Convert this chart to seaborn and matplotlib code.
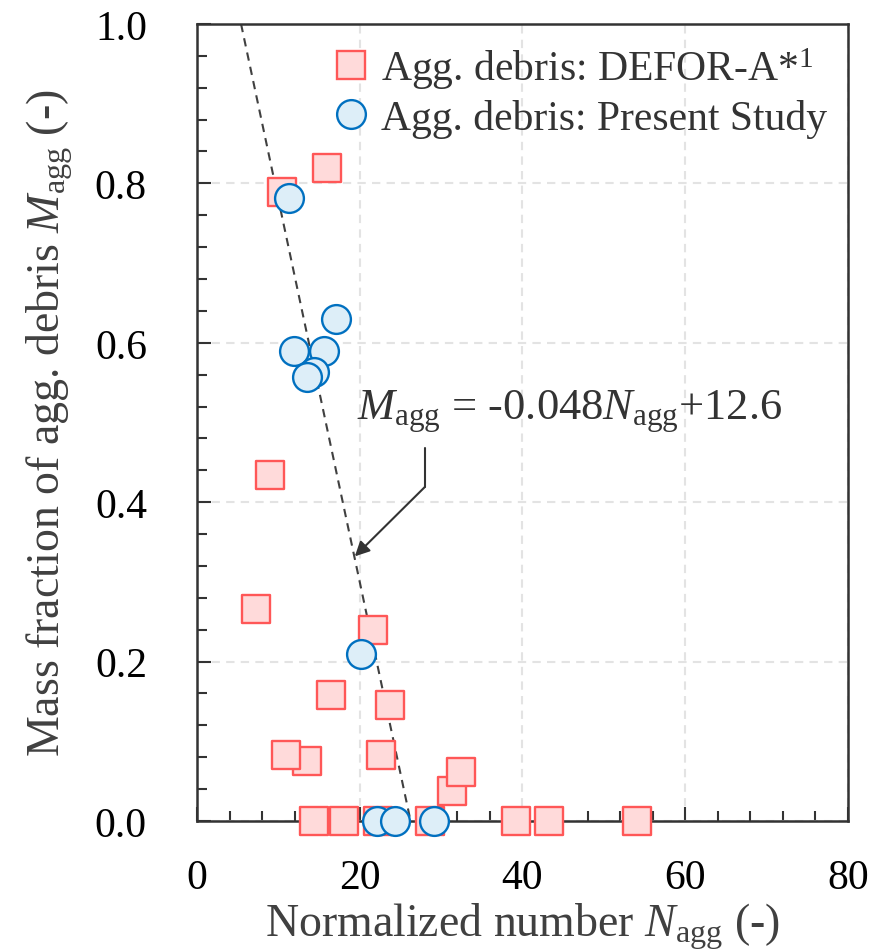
import matplotlib
matplotlib.use("Agg")
import matplotlib.pyplot as plt
import seaborn as sns
import pandas as pd
import numpy as np
from matplotlib.ticker import MultipleLocator
from matplotlib.lines import Line2D

# ---- data ----
defor_x = [10.4, 16.0, 9.0, 7.2, 21.6, 16.5, 23.7, 13.5, 10.9, 22.6, 31.4, 32.4,
           14.4, 18.1, 22.2, 28.6, 39.2, 43.2, 54.1]
defor_y = [0.789, 0.819, 0.434, 0.266, 0.240, 0.158, 0.146, 0.075, 0.083, 0.083, 0.038, 0.061,
           0.0, 0.0, 0.0, 0.0, 0.0, 0.0, 0.0]
present_x = [11.3, 17.1, 11.9, 15.6, 14.4, 13.5, 20.1, 22.1, 24.3, 29.1]
present_y = [0.782, 0.630, 0.590, 0.590, 0.563, 0.557, 0.209, 0.0, 0.0, 0.0]
fit_slope = -0.048
fit_intercept = 1.26
label_defor = "Agg. debris: DEFOR-A*$^{1}$"
label_present = "Agg. debris: Present Study"
xlabel = "Normalized number $N_\\mathrm{agg}$ (-)"
ylabel = "Mass fraction of agg. debris $M_\\mathrm{agg}$ (-)"
eq_text = "$M_\\mathrm{agg}$ = -0.048$N_\\mathrm{agg}$+12.6"

sns.set_theme(style="white")
plt.rcParams['font.family'] = ['Liberation Serif', 'DejaVu Serif']
plt.rcParams['mathtext.fontset'] = 'custom'
plt.rcParams['mathtext.rm'] = 'Liberation Serif'
plt.rcParams['mathtext.it'] = 'Liberation Serif:italic'
plt.rcParams['mathtext.bf'] = 'Liberation Serif:bold'

FS = 30
FSL = 33
fig = plt.figure(figsize=(8.75, 9.53), dpi=100)
ax = fig.add_axes([0.2251, 0.1375, 0.9691 - 0.2251, 0.9738 - 0.1375])

df_d = pd.DataFrame({"x": defor_x, "y": defor_y})
df_p = pd.DataFrame({"x": present_x, "y": present_y})

sq_face, sq_edge = "#FFDADA", "#FF5757"
ci_face, ci_edge = "#DDEEF8", "#0070C0"

# regression line
y_end = [1.0, 0.0]
x_end = [(yy - fit_intercept) / fit_slope for yy in y_end]
ax.plot(x_end, y_end, color="#404040", lw=1.5, ls=(0, (4, 3)), zorder=2)

sns.scatterplot(data=df_d, x="x", y="y", marker="s", s=380, color=sq_face,
                edgecolor=sq_edge, linewidth=1.7, ax=ax, zorder=3,
                clip_on=False, legend=False)
sns.scatterplot(data=df_p, x="x", y="y", marker="o", s=430, color=ci_face,
                edgecolor=ci_edge, linewidth=1.7, ax=ax, zorder=4,
                clip_on=False, legend=False)

ax.set_xlim(0, 80)
ax.set_ylim(0, 1.0)
ax.xaxis.set_minor_locator(MultipleLocator(4))
ax.yaxis.set_minor_locator(MultipleLocator(0.04))
ax.set_xticks([0, 20, 40, 60, 80])
ax.set_xticklabels(["0", "20", "40", "60", "80"])
ax.set_yticks([0, 0.2, 0.4, 0.6, 0.8, 1.0])
ax.set_yticklabels(["0.0", "0.2", "0.4", "0.6", "0.8", "1.0"])

ax.tick_params(axis="both", which="major", direction="in", length=10, width=1.5,
               color="#333333", labelsize=FS, labelcolor="black")
ax.tick_params(axis="both", which="minor", direction="in", length=7, width=1.5,
               color="#333333")
ax.tick_params(axis="x", which="major", pad=27)
ax.tick_params(axis="y", which="major", pad=36)
ax.tick_params(bottom=True, left=True, top=False, right=False)
ax.tick_params(which="minor", bottom=True, left=True, top=False, right=False)

for sp in ax.spines.values():
    sp.set_color("#333333")
    sp.set_linewidth(1.8)

ax.grid(True, which="major", color="#E3E3E3", lw=1.5, ls=(0, (4, 3)))
ax.set_axisbelow(True)

ax.set_xlabel(xlabel, fontsize=FSL, color="#404040", labelpad=2.5)
ax.set_ylabel(ylabel, fontsize=FSL, color="#404040", labelpad=14)

# annotation
ax.text(19.7, 0.504, eq_text, fontsize=32, color="#333333", ha="left", va="baseline")
ax.plot([28.0, 28.0], [0.468, 0.419], color="#333333", lw=1.5)
ax.annotate("", xy=(19.4, 0.332), xytext=(28.0, 0.419),
            arrowprops=dict(arrowstyle="-|>", color="#333333", lw=1.5,
                            mutation_scale=22, shrinkA=0, shrinkB=0))

handles = [
    Line2D([], [], ls="none", marker="s", markersize=19.5, markerfacecolor=sq_face,
           markeredgecolor=sq_edge, markeredgewidth=1.7),
    Line2D([], [], ls="none", marker="o", markersize=20.7, markerfacecolor=ci_face,
           markeredgecolor=ci_edge, markeredgewidth=1.7),
]
leg = ax.legend(handles, [label_defor, label_present], loc="upper right", frameon=False,
                fontsize=FS, handletextpad=0.12, borderaxespad=0.05, labelspacing=0.2,
                handlelength=1.2, borderpad=0.45, labelcolor="#333333")

fig.savefig("out.png", dpi=100)
